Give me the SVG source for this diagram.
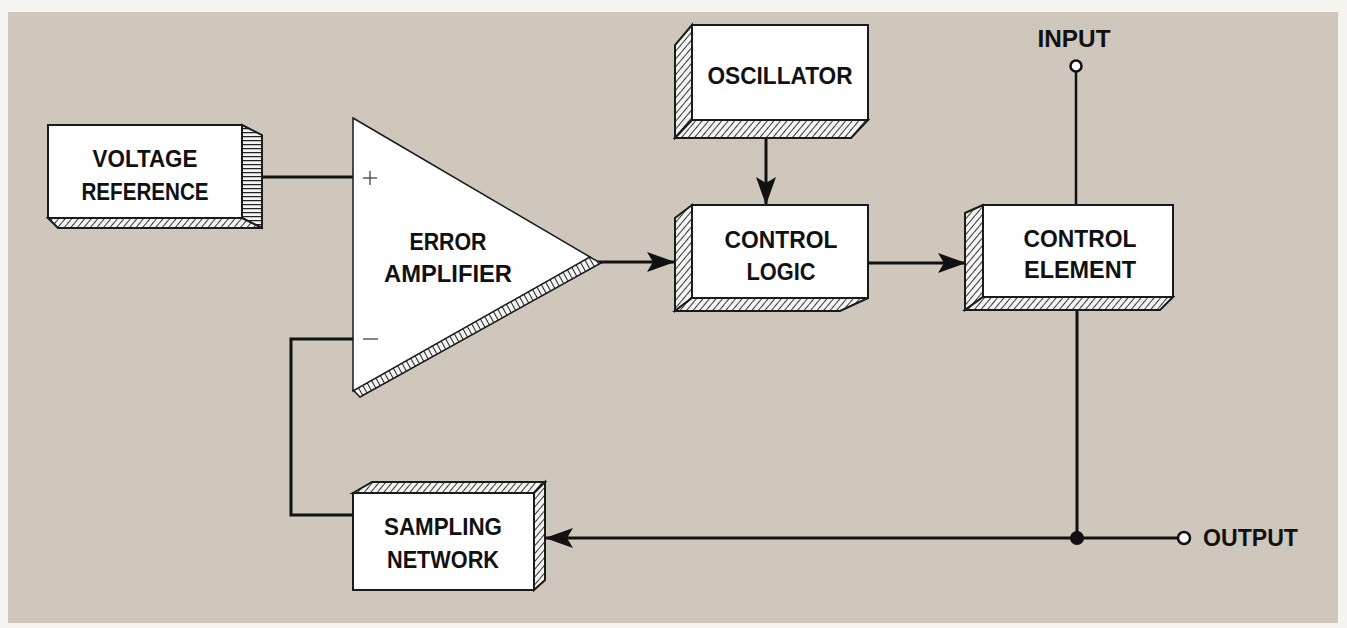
<svg xmlns="http://www.w3.org/2000/svg" width="1347" height="628" viewBox="0 0 1347 628">
<style>
.face{fill:#ffffff;stroke:#1a1a1a;stroke-width:2}
.hd{fill:url(#diag);stroke:#1a1a1a;stroke-width:2}
.hh{fill:url(#horiz);stroke:#1a1a1a;stroke-width:2}
.lbl{font-family:"Liberation Sans",Arial,sans-serif;font-weight:bold;font-size:24px;fill:#111;text-anchor:middle}
.wire{fill:none;stroke:#111;stroke-width:3}
</style>
<defs>
<pattern id="diag" patternUnits="userSpaceOnUse" width="5" height="5" patternTransform="rotate(40)">
<rect width="5" height="5" fill="#f4f4f2"/>
<line x1="0" y1="0" x2="0" y2="5" stroke="#222" stroke-width="1.8"/>
</pattern>
<pattern id="horiz" patternUnits="userSpaceOnUse" width="5" height="4">
<rect width="5" height="4" fill="#f4f4f2"/>
<line x1="0" y1="0.5" x2="5" y2="0.5" stroke="#222" stroke-width="1.5"/>
</pattern>
<pattern id="amph" patternUnits="userSpaceOnUse" width="5" height="5" patternTransform="rotate(-29)">
<rect width="5" height="5" fill="#f4f4f2"/>
<line x1="0" y1="0" x2="0" y2="5" stroke="#222" stroke-width="2"/>
</pattern>
<marker id="arr" markerUnits="userSpaceOnUse" markerWidth="30" markerHeight="20" refX="28" refY="10" orient="auto">
<path d="M0,0 L28,10 L0,20 L6,10 Z" fill="#111"/>
</marker>
</defs>
<rect x="0" y="0" width="1347" height="628" fill="#f6f4f1"/>
<rect x="8" y="12" width="1330" height="611" fill="#cfc6bc"/>

<g id="connectors">
<line class="wire" x1="262" y1="177" x2="353" y2="177"/>
<polyline class="wire" points="353,339 291,339 291,515 353,515"/>
<line class="wire" x1="598" y1="262" x2="675" y2="262" marker-end="url(#arr)"/>
<line class="wire" x1="766" y1="138" x2="766" y2="205" marker-end="url(#arr)"/>
<line class="wire" x1="869" y1="263" x2="966" y2="263" marker-end="url(#arr)"/>
<line class="wire" x1="1076" y1="72" x2="1076" y2="205" style="stroke-width:2.5"/>
<line class="wire" x1="1077" y1="310" x2="1077" y2="538"/>
<line class="wire" x1="1178" y1="538" x2="545" y2="538" marker-end="url(#arr)"/>
<circle cx="1077" cy="538" r="7" fill="#111"/>
</g>

<g id="voltage-reference">
<polygon class="hh" points="242,125 262,135 262,228 242,218"/>
<polygon class="hd" points="48,218 242,218 262,228 58,228"/>
<rect class="face" x="48" y="125" width="194" height="93"/>
<text class="lbl" x="145" y="167" textLength="105" lengthAdjust="spacingAndGlyphs">VOLTAGE</text>
<text class="lbl" x="145" y="200" textLength="127" lengthAdjust="spacingAndGlyphs">REFERENCE</text>
</g>

<g id="error-amplifier">
<polygon fill="url(#amph)" stroke="#1a1a1a" stroke-width="1.5" points="353,390 588,256 601,263 360,397"/>
<polygon fill="#ffffff" stroke="#1a1a1a" stroke-width="1.5" points="353,118 590,257 353,391"/>
<line x1="363" y1="178" x2="377" y2="178" stroke="#333" stroke-width="1.2"/>
<line x1="370" y1="171" x2="370" y2="185" stroke="#333" stroke-width="1.2"/>
<line x1="363" y1="339" x2="378" y2="339" stroke="#333" stroke-width="1.2"/>
<text class="lbl" x="448" y="250" textLength="77" lengthAdjust="spacingAndGlyphs">ERROR</text>
<text class="lbl" x="448" y="282" textLength="128" lengthAdjust="spacingAndGlyphs">AMPLIFIER</text>
</g>

<g id="oscillator">
<polygon class="hd" points="692,25 675,45 675,138 692,120"/>
<polygon class="hd" points="692,120 675,138 851,138 868,120"/>
<rect class="face" x="692" y="25" width="176" height="95"/>
<text class="lbl" x="780" y="84" textLength="145" lengthAdjust="spacingAndGlyphs">OSCILLATOR</text>
</g>

<g id="control-logic">
<polygon class="hd" points="692,205 675,218 675,311 692,298"/>
<polygon class="hd" points="692,298 675,311 840,311 868,298"/>
<rect class="face" x="692" y="205" width="176" height="93"/>
<text class="lbl" x="781" y="248" textLength="113" lengthAdjust="spacingAndGlyphs">CONTROL</text>
<text class="lbl" x="781" y="280" textLength="69" lengthAdjust="spacingAndGlyphs">LOGIC</text>
</g>

<g id="control-element">
<polygon class="hd" points="983,205 965,213 965,310 983,297"/>
<polygon class="hd" points="983,297 965,310 1160,310 1173,297"/>
<rect class="face" x="983" y="205" width="190" height="92"/>
<text class="lbl" x="1080" y="247" textLength="113" lengthAdjust="spacingAndGlyphs">CONTROL</text>
<text class="lbl" x="1080" y="278" textLength="112" lengthAdjust="spacingAndGlyphs">ELEMENT</text>
</g>

<g id="sampling-network">
<polygon class="hd" points="353,493 372,482 545,482 534,493"/>
<polygon class="hd" points="534,493 545,482 545,580 534,590"/>
<rect class="face" x="353" y="493" width="181" height="97"/>
<text class="lbl" x="443" y="535" textLength="118" lengthAdjust="spacingAndGlyphs">SAMPLING</text>
<text class="lbl" x="443" y="568" textLength="112" lengthAdjust="spacingAndGlyphs">NETWORK</text>
</g>

<g id="input">
<text class="lbl" x="1074" y="47" textLength="73" lengthAdjust="spacingAndGlyphs">INPUT</text>
<circle cx="1076" cy="66" r="5.5" fill="#fff" stroke="#111" stroke-width="2.5"/>
</g>

<g id="output">
<circle cx="1184" cy="538" r="6" fill="#fff" stroke="#111" stroke-width="2.5"/>
<text class="lbl" x="1203" y="546" style="text-anchor:start" textLength="95" lengthAdjust="spacingAndGlyphs">OUTPUT</text>
</g>
</svg>
